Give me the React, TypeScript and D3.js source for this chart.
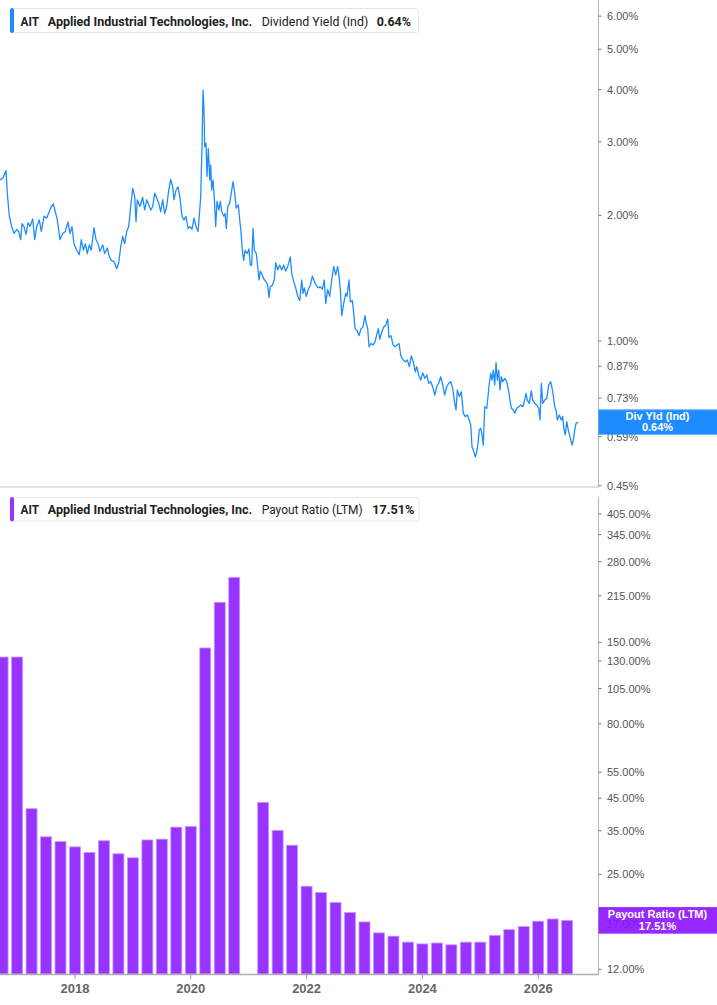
import React from 'react';
import * as d3 from 'd3';

const W = 717;
const H = 1005;

// Dividend yield (Ind), % — dates as decimal years
const yieldDates = [
  2016.705, 2016.757, 2016.809, 2016.831, 2016.866, 2016.907, 2016.947, 2016.993, 2017.028, 2017.063,
  2017.085, 2017.120, 2017.154, 2017.189, 2017.223, 2017.270, 2017.304, 2017.339, 2017.384, 2017.418,
  2017.465, 2017.512, 2017.556, 2017.591, 2017.626, 2017.660, 2017.695, 2017.741, 2017.788, 2017.833,
  2017.879, 2017.914, 2017.948, 2017.983, 2018.030, 2018.075, 2018.109, 2018.144, 2018.178, 2018.213,
  2018.247, 2018.282, 2018.328, 2018.363, 2018.398, 2018.432, 2018.479, 2018.513, 2018.558, 2018.593,
  2018.627, 2018.674, 2018.721, 2018.755, 2018.790, 2018.824, 2018.859, 2018.893, 2018.928, 2018.962,
  2018.997, 2019.031, 2019.054, 2019.076, 2019.123, 2019.169, 2019.204, 2019.239, 2019.273, 2019.308,
  2019.342, 2019.377, 2019.411, 2019.446, 2019.480, 2019.515, 2019.549, 2019.584, 2019.619, 2019.653,
  2019.688, 2019.710, 2019.745, 2019.779, 2019.814, 2019.848, 2019.883, 2019.917, 2019.952, 2019.986,
  2020.021, 2020.056, 2020.090, 2020.125, 2020.147, 2020.171, 2020.194, 2020.211, 2020.228, 2020.240,
  2020.263, 2020.280, 2020.303, 2020.327, 2020.344, 2020.361, 2020.384, 2020.406, 2020.430, 2020.453,
  2020.487, 2020.510, 2020.534, 2020.569, 2020.591, 2020.614, 2020.638, 2020.672, 2020.695, 2020.729,
  2020.752, 2020.786, 2020.821, 2020.845, 2020.867, 2020.890, 2020.914, 2020.936, 2020.971, 2021.005,
  2021.028, 2021.052, 2021.075, 2021.097, 2021.132, 2021.156, 2021.178, 2021.201, 2021.225, 2021.259,
  2021.294, 2021.328, 2021.351, 2021.373, 2021.408, 2021.442, 2021.467, 2021.501, 2021.536, 2021.570,
  2021.605, 2021.639, 2021.674, 2021.719, 2021.743, 2021.777, 2021.812, 2021.847, 2021.881, 2021.916,
  2021.938, 2021.961, 2021.995, 2022.030, 2022.064, 2022.099, 2022.133, 2022.168, 2022.202, 2022.237,
  2022.272, 2022.306, 2022.330, 2022.365, 2022.399, 2022.434, 2022.468, 2022.503, 2022.537, 2022.560,
  2022.582, 2022.607, 2022.641, 2022.676, 2022.698, 2022.733, 2022.755, 2022.790, 2022.814, 2022.836,
  2022.871, 2022.905, 2022.940, 2022.974, 2023.009, 2023.031, 2023.056, 2023.078, 2023.113, 2023.147,
  2023.182, 2023.216, 2023.239, 2023.263, 2023.297, 2023.332, 2023.366, 2023.401, 2023.423, 2023.458,
  2023.493, 2023.527, 2023.562, 2023.596, 2023.631, 2023.670, 2023.705, 2023.739, 2023.774, 2023.809,
  2023.843, 2023.878, 2023.902, 2023.936, 2023.971, 2024.005, 2024.040, 2024.075, 2024.109, 2024.144,
  2024.178, 2024.213, 2024.247, 2024.282, 2024.316, 2024.351, 2024.385, 2024.420, 2024.455, 2024.489,
  2024.524, 2024.558, 2024.581, 2024.603, 2024.638, 2024.672, 2024.707, 2024.741, 2024.776, 2024.810,
  2024.835, 2024.857, 2024.879, 2024.914, 2024.938, 2024.961, 2024.983, 2025.007, 2025.030, 2025.052,
  2025.076, 2025.111, 2025.133, 2025.156, 2025.180, 2025.202, 2025.225, 2025.249, 2025.272, 2025.294,
  2025.318, 2025.341, 2025.363, 2025.387, 2025.422, 2025.457, 2025.491, 2025.513, 2025.536, 2025.570,
  2025.595, 2025.629, 2025.664, 2025.698, 2025.733, 2025.767, 2025.789, 2025.812, 2025.847, 2025.881,
  2025.905, 2025.940, 2025.974, 2026.009, 2026.031, 2026.054, 2026.078, 2026.113, 2026.147, 2026.182,
  2026.216, 2026.251, 2026.285, 2026.308, 2026.330, 2026.365, 2026.399, 2026.423, 2026.446, 2026.468,
  2026.492, 2026.527, 2026.549, 2026.584, 2026.607, 2026.631, 2026.653, 2026.688,
];
const yieldValues = [
  2.43, 2.46, 2.56, 2.26, 1.99, 1.88, 1.81, 1.85, 1.83, 1.75,
  1.91, 1.88, 1.80, 1.92, 1.88, 1.96, 1.75, 1.88, 1.95, 1.83,
  1.99, 1.97, 2.04, 2.10, 2.13, 2.04, 1.95, 1.75, 1.81, 1.83,
  1.93, 1.81, 1.88, 1.71, 1.65, 1.61, 1.75, 1.65, 1.71, 1.62,
  1.70, 1.65, 1.87, 1.75, 1.71, 1.64, 1.70, 1.62, 1.67, 1.59,
  1.56, 1.55, 1.49, 1.54, 1.68, 1.78, 1.71, 1.83, 1.88, 2.10,
  2.32, 2.22, 1.93, 2.18, 2.10, 2.21, 2.06, 2.18, 2.12, 2.06,
  2.10, 2.26, 2.20, 2.14, 2.04, 2.18, 2.02, 2.10, 2.30, 2.44,
  2.34, 2.18, 2.30, 2.34, 2.20, 1.99, 1.95, 1.99, 1.86, 1.88,
  1.85, 1.97, 1.88, 1.83, 1.99, 2.22, 2.92, 3.99, 3.58, 2.92,
  2.98, 2.48, 2.89, 2.43, 2.64, 2.30, 2.43, 2.20, 1.88, 2.16,
  2.06, 2.16, 2.04, 1.99, 2.02, 1.86, 2.10, 2.14, 2.24, 2.41,
  2.30, 2.08, 2.12, 1.95, 1.83, 1.65, 1.56, 1.65, 1.62, 1.66,
  1.52, 1.52, 1.86, 1.65, 1.62, 1.51, 1.40, 1.47, 1.45, 1.41,
  1.39, 1.36, 1.27, 1.35, 1.36, 1.40, 1.54, 1.48, 1.52, 1.48,
  1.52, 1.47, 1.51, 1.59, 1.45, 1.39, 1.34, 1.28, 1.25, 1.40,
  1.30, 1.34, 1.28, 1.33, 1.36, 1.43, 1.39, 1.36, 1.34, 1.35,
  1.33, 1.40, 1.23, 1.33, 1.28, 1.40, 1.51, 1.44, 1.51, 1.43,
  1.33, 1.15, 1.23, 1.30, 1.28, 1.40, 1.24, 1.25, 1.17, 1.07,
  1.06, 1.03, 1.07, 1.08, 1.15, 1.10, 1.07, 0.969, 0.987, 0.978,
  0.996, 1.04, 1.07, 1.01, 1.05, 1.08, 1.09, 1.13, 1.02, 1.03,
  0.978, 0.969, 0.978, 0.987, 0.917, 0.901, 0.892, 0.901, 0.868, 0.921,
  0.892, 0.844, 0.868, 0.829, 0.806, 0.839, 0.814, 0.829, 0.792, 0.799,
  0.777, 0.742, 0.777, 0.792, 0.821, 0.785, 0.742, 0.777, 0.792, 0.799,
  0.770, 0.709, 0.684, 0.763, 0.736, 0.756, 0.671, 0.659, 0.665, 0.647,
  0.629, 0.558, 0.548, 0.528, 0.543, 0.569, 0.612, 0.618, 0.596, 0.563,
  0.696, 0.690, 0.736, 0.792, 0.837, 0.806, 0.852, 0.785, 0.887, 0.806,
  0.852, 0.763, 0.821, 0.799, 0.814, 0.799, 0.756, 0.722, 0.690, 0.684,
  0.671, 0.690, 0.696, 0.703, 0.696, 0.722, 0.749, 0.722, 0.709, 0.760,
  0.722, 0.709, 0.703, 0.690, 0.647, 0.792, 0.709, 0.722, 0.729, 0.785,
  0.799, 0.756, 0.696, 0.684, 0.647, 0.665, 0.647, 0.659, 0.612, 0.596,
  0.641, 0.606, 0.590, 0.563, 0.579, 0.612, 0.635, 0.640,
];

// Payout ratio (LTM), % — quarterly
const payoutQuarters = [
  '2016Q3', '2016Q4', '2017Q1', '2017Q2', '2017Q3', '2017Q4', '2018Q1', '2018Q2', '2018Q3', '2018Q4',
  '2019Q1', '2019Q2', '2019Q3', '2019Q4', '2020Q1', '2020Q2', '2020Q3', '2020Q4', '2021Q1', '2021Q2',
  '2021Q3', '2021Q4', '2022Q1', '2022Q2', '2022Q3', '2022Q4', '2023Q1', '2023Q2', '2023Q3', '2023Q4',
  '2024Q1', '2024Q2', '2024Q3', '2024Q4', '2025Q1', '2025Q2', '2025Q3', '2025Q4', '2026Q1', '2026Q2',
];
const payoutValues: (number | null)[] = [
  134, 134, 41.5, 33.4, 32.2, 30.9, 29.6, 32.4, 29.3, 28.4,
  32.6, 32.8, 36.0, 36.2, 143.7, 204.5, 248, null, 43.6, 35.1,
  31.3, 22.8, 21.7, 20.1, 18.6, 17.3, 15.9, 15.5, 14.8, 14.6,
  14.7, 14.5, 14.8, 14.8, 15.6, 16.3, 16.7, 17.4, 17.7, 17.51,
];

const yieldTicks = [6, 5, 4, 3, 2, 1, 0.87, 0.73, 0.59, 0.45];
const payoutTicks = [405, 345, 280, 215, 150, 130, 105, 80, 55, 45, 35, 25, 17, 12];
const yearTicks = [2018, 2020, 2022, 2024, 2026];

const lastYield = 0.64;
const lastPayout = 17.51;

const BLUE = '#1e8cff';
const PURPLE = '#9933ff';
const AXIS_X = 598.5;

const quarterToYear = (q: string) => +q.slice(0, 4) + (+q.slice(5)) * 0.25;

export default function App() {
  const x = d3.scaleLinear().domain([2016.705, 2027.05]).range([0, 599]);
  const yTop = d3.scaleLog().domain([0.447, 6.56]).range([487, 0]);
  const yBot = d3.scaleLog().domain([11.57, 461.4]).range([974, 497]);

  const pts = yieldDates.map((t, i) => [t, yieldValues[i]] as [number, number]);
  const line = d3
    .line<[number, number]>()
    .x((d) => x(d[0]))
    .y((d) => yTop(d[1]));

  const bars = payoutQuarters
    .map((q, i) => ({ t: quarterToYear(q), v: payoutValues[i] }))
    .filter((d) => d.v != null) as { t: number; v: number }[];
  const bw = 11;

  const tickFont = { fontFamily: 'Liberation Sans, Arial, sans-serif', fontSize: 11, fill: '#555' };
  const legendFont = 'Roboto, sans-serif';

  const fmt = (v: number) => v.toFixed(2) + '%';

  return (
    <svg
      width={W}
      height={H}
      style={{ position: 'absolute', left: 0, top: 0, background: '#fff' }}
      xmlns="http://www.w3.org/2000/svg"
    >
      <defs>
        <clipPath id="plotClip">
          <rect x={0} y={0} width={599} height={H} />
        </clipPath>
      </defs>

      {/* Top panel */}
      <line x1={0} x2={599} y1={487} y2={487} stroke="#e2e2e2" strokeWidth={2} />
      <line x1={AXIS_X} x2={AXIS_X} y1={0} y2={487} stroke="#b5b5b5" strokeWidth={1} />
      {yieldTicks.map((t) => (
        <g key={'yt' + t}>
          <line x1={AXIS_X} x2={AXIS_X + 3} y1={yTop(t)} y2={yTop(t)} stroke="#777" />
          <text x={607} y={yTop(t)} dy="0.36em" {...tickFont}>
            {fmt(t)}
          </text>
        </g>
      ))}
      <g clipPath="url(#plotClip)">
        <path d={line(pts) || ''} fill="none" stroke={BLUE} strokeWidth={1.3} strokeLinejoin="round" />
      </g>

      {/* Top legend */}
      <rect x={10.5} y={8.5} width={408} height={24} rx={3} fill="#fff" stroke="#e6e6e6" />
      <rect x={10} y={8} width={4} height={25} rx={2} fill={BLUE} />
      <g fontFamily={legendFont} fontSize={12.5} fill="#222">
        <text x={20.5} y={25.5} fontWeight={700} textLength={18.5} lengthAdjust="spacingAndGlyphs">AIT</text>
        <text x={47.7} y={25.5} fontWeight={700} textLength={204.5} lengthAdjust="spacingAndGlyphs">
          Applied Industrial Technologies, Inc.
        </text>
        <text x={261.7} y={25.5} fontWeight={400} textLength={106.6} lengthAdjust="spacingAndGlyphs">
          Dividend Yield (Ind)
        </text>
        <text x={376.7} y={25.5} fontWeight={700} textLength={34.3} lengthAdjust="spacingAndGlyphs">
          {lastYield.toFixed(2)}%
        </text>
      </g>

      {/* Div Yld label */}
      <rect x={AXIS_X} y={yTop(lastYield) - 12.7} width={W - AXIS_X} height={25.4} fill={BLUE} />
      <line x1={AXIS_X} x2={W} y1={yTop(lastYield) - 12.2} y2={yTop(lastYield) - 12.2} stroke="#8fc4ff" />
      <text
        x={657.5}
        y={yTop(lastYield) - 2}
        textAnchor="middle"
        fontFamily="Liberation Sans, Arial, sans-serif"
        fontSize={11}
        fontWeight={700}
        fill="#fff"
      >
        Div Yld (Ind)
      </text>
      <text
        x={657.5}
        y={yTop(lastYield) + 9}
        textAnchor="middle"
        fontFamily="Liberation Sans, Arial, sans-serif"
        fontSize={11}
        fontWeight={700}
        fill="#fff"
      >
        {lastYield.toFixed(2)}%
      </text>

      {/* Bottom panel */}
      <line x1={AXIS_X} x2={AXIS_X} y1={497} y2={975} stroke="#b5b5b5" strokeWidth={1} />
      {payoutTicks.map((t) => (
        <g key={'pt' + t}>
          <line x1={AXIS_X} x2={AXIS_X + 3} y1={yBot(t)} y2={yBot(t)} stroke="#777" />
          <text x={607} y={yBot(t)} dy="0.36em" {...tickFont}>
            {fmt(t)}
          </text>
        </g>
      ))}
      <g clipPath="url(#plotClip)">
        {bars.map((d) => (
          <rect
            key={'b' + d.t}
            x={x(d.t) - bw / 2}
            y={yBot(d.v)}
            width={bw}
            height={974 - yBot(d.v)}
            fill={PURPLE}
            stroke="#c79bff"
            strokeWidth={0.8}
          />
        ))}
      </g>
      <line x1={0} x2={599} y1={974.5} y2={974.5} stroke="#b0b0b0" strokeWidth={1.5} />
      {yearTicks.map((yr) => (
        <g key={'xt' + yr}>
          <line x1={x(yr)} x2={x(yr)} y1={974} y2={979} stroke="#999" />
          <text
            x={x(yr)}
            y={993}
            textAnchor="middle"
            fontFamily="Liberation Sans, Arial, sans-serif"
            fontSize={13}
            fontWeight={700}
            fill="#666"
          >
            {yr}
          </text>
        </g>
      ))}

      {/* Bottom legend */}
      <rect x={10.5} y={497.5} width={408.5} height={23.5} rx={3} fill="#fff" stroke="#e6e6e6" />
      <rect x={10} y={497} width={4} height={24.5} rx={2} fill={PURPLE} />
      <g fontFamily={legendFont} fontSize={12.5} fill="#222">
        <text x={20.5} y={514} fontWeight={700} textLength={18.5} lengthAdjust="spacingAndGlyphs">AIT</text>
        <text x={47.7} y={514} fontWeight={700} textLength={204.5} lengthAdjust="spacingAndGlyphs">
          Applied Industrial Technologies, Inc.
        </text>
        <text x={261.7} y={514} fontWeight={400} textLength={101} lengthAdjust="spacingAndGlyphs">
          Payout Ratio (LTM)
        </text>
        <text x={372.3} y={514} fontWeight={700} textLength={42} lengthAdjust="spacingAndGlyphs">
          {lastPayout.toFixed(2)}%
        </text>
      </g>

      {/* Payout label */}
      <rect
        x={AXIS_X}
        y={yBot(lastPayout) - 13.3}
        width={W - AXIS_X}
        height={26.6}
        fill="#8a12ff"
        fillOpacity={0.9}
      />
      <text
        x={657.5}
        y={yBot(lastPayout) - 2}
        textAnchor="middle"
        fontFamily="Liberation Sans, Arial, sans-serif"
        fontSize={11}
        fontWeight={700}
        fill="#fff"
      >
        Payout Ratio (LTM)
      </text>
      <text
        x={657.5}
        y={yBot(lastPayout) + 9.5}
        textAnchor="middle"
        fontFamily="Liberation Sans, Arial, sans-serif"
        fontSize={11}
        fontWeight={700}
        fill="#fff"
      >
        {lastPayout.toFixed(2)}%
      </text>
    </svg>
  );
}
